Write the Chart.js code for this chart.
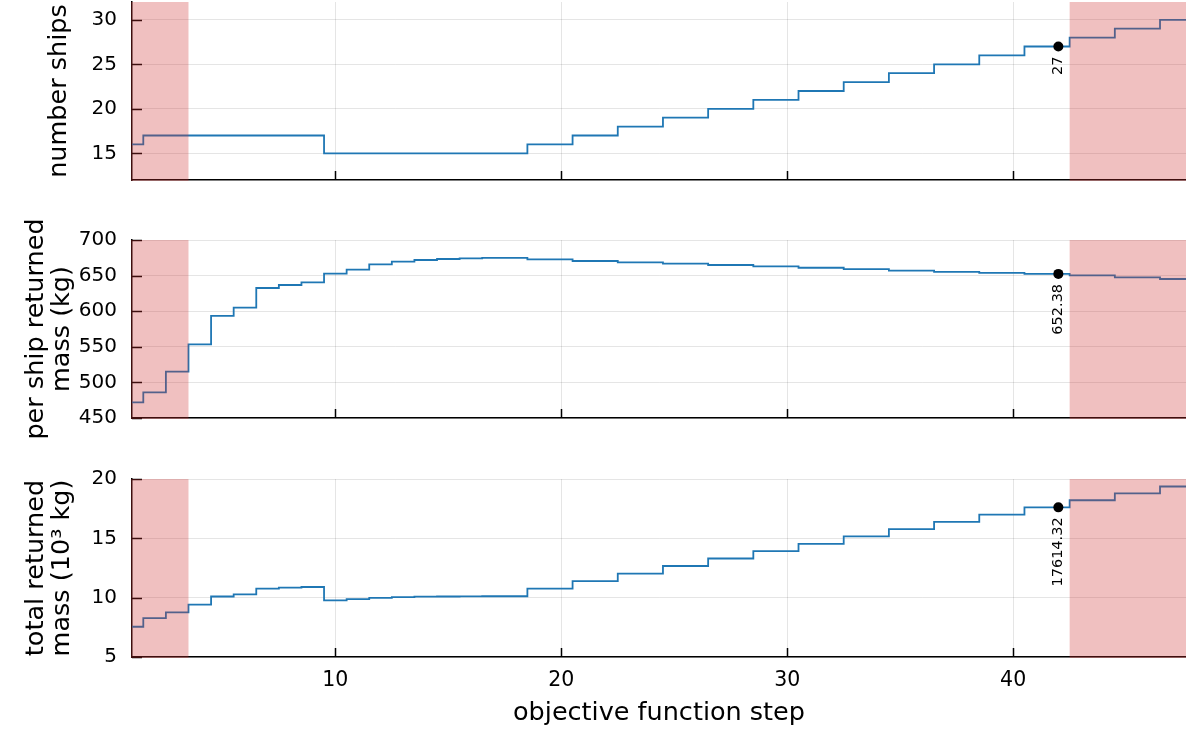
<!DOCTYPE html>
<html>
<head>
<meta charset="utf-8">
<script src="https://cdn.jsdelivr.net/npm/chart.js@4.4.0/dist/chart.umd.min.js"></script>
<style>
  body { margin: 0; background: #fff; }
  #wrap { position: relative; width: 1186px; height: 731px; }
  canvas { position: absolute; left: 0; }
</style>
</head>
<body>
<div id="wrap">
  <canvas id="shipsChart" width="1186" height="200" style="top:0px"></canvas>
  <canvas id="massChart" width="1186" height="218" style="top:220px"></canvas>
  <canvas id="totalChart" width="1186" height="271" style="top:460px"></canvas>
</div>
<script>
// objective function steps
var steps = [1, 2, 3, 4, 5, 6, 7, 8, 9, 10, 11, 12, 13, 14, 15, 16, 17, 18, 19, 20, 21, 22, 23, 24,
  25, 26, 27, 28, 29, 30, 31, 32, 33, 34, 35, 36, 37, 38, 39, 40, 41, 42, 43, 44, 45, 46, 47, 48];

var numberShips = [16, 17, 17, 17, 17, 17, 17, 17, 17, 15, 15, 15, 15, 15, 15, 15, 15, 15, 16, 16, 17, 17, 18, 18,
  19, 19, 20, 20, 21, 21, 22, 22, 23, 23, 24, 24, 25, 25, 26, 26, 27, 27, 28, 28, 29, 29, 30, 30];

// kg
var perShipMass = [472, 486, 515, 553.5, 593.3, 605, 632.6, 636.8, 640.5, 652.7, 658.3, 665.8, 669.6, 671.9, 673.3, 674.3, 674.8, 674.9,
  672.9, 672.9, 670.5, 670.5, 668.6, 668.6, 666.7, 666.7, 664.9, 664.9, 663.0, 663.0, 661.0, 661.0, 659.0, 659.0,
  657.0, 657.0, 655.2, 655.2, 653.7, 653.7, 652.38, 652.38, 650.4, 650.4, 647.6, 647.6, 645.2, 645.2];

// 10^3 kg
var totalMass = [7.55, 8.27, 8.76, 9.41, 10.1, 10.28, 10.76, 10.84, 10.9, 9.78, 9.87, 9.99, 10.04, 10.08, 10.1, 10.11, 10.12, 10.12,
  10.77, 10.77, 11.4, 11.4, 12.03, 12.03, 12.67, 12.67, 13.3, 13.3, 13.92, 13.92, 14.54, 14.54, 15.16, 15.16,
  15.77, 15.77, 16.38, 16.38, 17.0, 17.0, 17.61, 17.61, 18.21, 18.21, 18.79, 18.79, 19.37, 19.37];

var stepTicks = [10, 20, 30, 40];
var shipTicks = [15, 20, 25, 30];
var perShipTicks = [450, 500, 550, 600, 650, 700];
var totalTicks = [5, 10, 15, 20];

var shadedSpans = [[1, 3.5], [42.5, 48]];
var markerStep = 42;
var markerLabels = ['27', '652.38', '17614.32'];

Chart.defaults.font.family = "'DejaVu Sans', sans-serif";

var lineBlue = '#1f77b4';
var gridGrey = 'rgba(0,0,0,0.1)';

var overlayPlugin = {
  id: 'overlay',
  afterDraw: function (chart) {
    var ctx = chart.ctx;
    var area = chart.chartArea;
    var xs = chart.scales.x;
    var ys = chart.scales.y;
    var opts = chart.options.plugins.overlay;
    ctx.save();

    // tick marks pointing into the plot
    ctx.strokeStyle = '#000';
    ctx.lineWidth = 1.5;
    ctx.beginPath();
    ys.ticks.forEach(function (t) {
      var py = Math.round(ys.getPixelForValue(t.value)) + 0.5;
      ctx.moveTo(area.left, py);
      ctx.lineTo(area.left + 10, py);
    });
    xs.ticks.forEach(function (t) {
      var px = Math.round(xs.getPixelForValue(t.value)) + 0.5;
      ctx.moveTo(px, area.bottom);
      ctx.lineTo(px, area.bottom - 9);
    });
    ctx.stroke();

    // shaded regions
    ctx.fillStyle = 'rgba(205,45,45,0.3)';
    shadedSpans.forEach(function (s) {
      var x0 = s[0] <= xs.min ? area.left - 1 : xs.getPixelForValue(s[0]);
      var x1 = Math.min(xs.getPixelForValue(s[1]), area.right);
      ctx.fillRect(x0, area.top, x1 - x0, area.bottom - area.top + 1);
    });

    // marker label, reads bottom to top, ending just under the point
    var px = xs.getPixelForValue(markerStep);
    var py = ys.getPixelForValue(opts.value);
    ctx.translate(px, py + 10);
    ctx.rotate(-Math.PI / 2);
    ctx.font = "14.5px 'DejaVu Sans'";
    ctx.fillStyle = '#000';
    ctx.textAlign = 'right';
    ctx.textBaseline = 'middle';
    ctx.fillText(opts.label, 0, 0);
    ctx.restore();
  }
};

function makePanel(id, values, yMin, yMax, yTicks, yTitle, titlePad, topPad, xAxisHeight, showX, labelIdx) {
  var idx = steps.indexOf(markerStep);
  var points = steps.map(function (s, i) { return { x: s, y: values[i] }; });

  new Chart(document.getElementById(id).getContext('2d'), {
    type: 'line',
    data: {
      datasets: [
        {
          data: [{ x: markerStep, y: values[idx] }],
          showLine: false,
          pointRadius: 5,
          pointBackgroundColor: '#000',
          pointBorderColor: '#000',
          pointBorderWidth: 0,
          order: 0
        },
        {
          data: points,
          stepped: 'middle',
          borderColor: lineBlue,
          borderWidth: 1.8,
          pointRadius: 0,
          fill: false,
          order: 1
        }
      ]
    },
    options: {
      responsive: false,
      animation: false,
      layout: { autoPadding: false, padding: { top: topPad, left: 0, right: 0, bottom: 0 } },
      plugins: {
        legend: { display: false },
        tooltip: { enabled: false },
        overlay: { value: values[idx], label: markerLabels[labelIdx] }
      },
      scales: {
        x: {
          type: 'linear',
          min: 1,
          max: 47.65,
          afterBuildTicks: function (scale) {
            scale.ticks = stepTicks.map(function (v) { return { value: v }; });
          },
          afterFit: function (scale) {
            scale.height = xAxisHeight;
            scale.paddingLeft = 0;
            scale.paddingRight = 0;
          },
          grid: { color: gridGrey, drawTicks: false },
          border: { color: '#000', width: 1.5 },
          ticks: { display: showX, color: '#000', font: { size: 20.5 }, padding: 11, maxRotation: 0 },
          title: {
            display: showX,
            text: 'objective function step',
            color: '#000',
            font: { size: 25.5, lineHeight: 1.2 },
            padding: { top: 0, bottom: 2 }
          }
        },
        y: {
          min: yMin,
          max: yMax,
          afterBuildTicks: function (scale) {
            scale.ticks = yTicks.map(function (v) { return { value: v }; });
          },
          afterFit: function (scale) {
            scale.width = 132;
            scale.paddingTop = 0;
            scale.paddingBottom = 0;
          },
          grid: { color: gridGrey, drawTicks: false },
          border: { color: '#000', width: 1.5 },
          ticks: { color: '#000', font: { size: 20 }, padding: 15 },
          title: {
            display: true,
            text: yTitle,
            color: '#000',
            font: { size: 25.5, lineHeight: 1.03 },
            padding: { top: titlePad, bottom: 0 }
          }
        }
      }
    },
    plugins: [overlayPlugin]
  });
}

makePanel('shipsChart', numberShips, 12, 32, shipTicks, 'number ships', 46, 2, 20, false, 0);
makePanel('massChart', perShipMass, 450, 700, perShipTicks, ['per ship returned', 'mass (kg)'], 23, 20, 20, false, 1);
makePanel('totalChart', totalMass, 5, 20, totalTicks, ['total returned', 'mass (10³ kg)'], 23, 19, 74, true, 2);
</script>
</body>
</html>
